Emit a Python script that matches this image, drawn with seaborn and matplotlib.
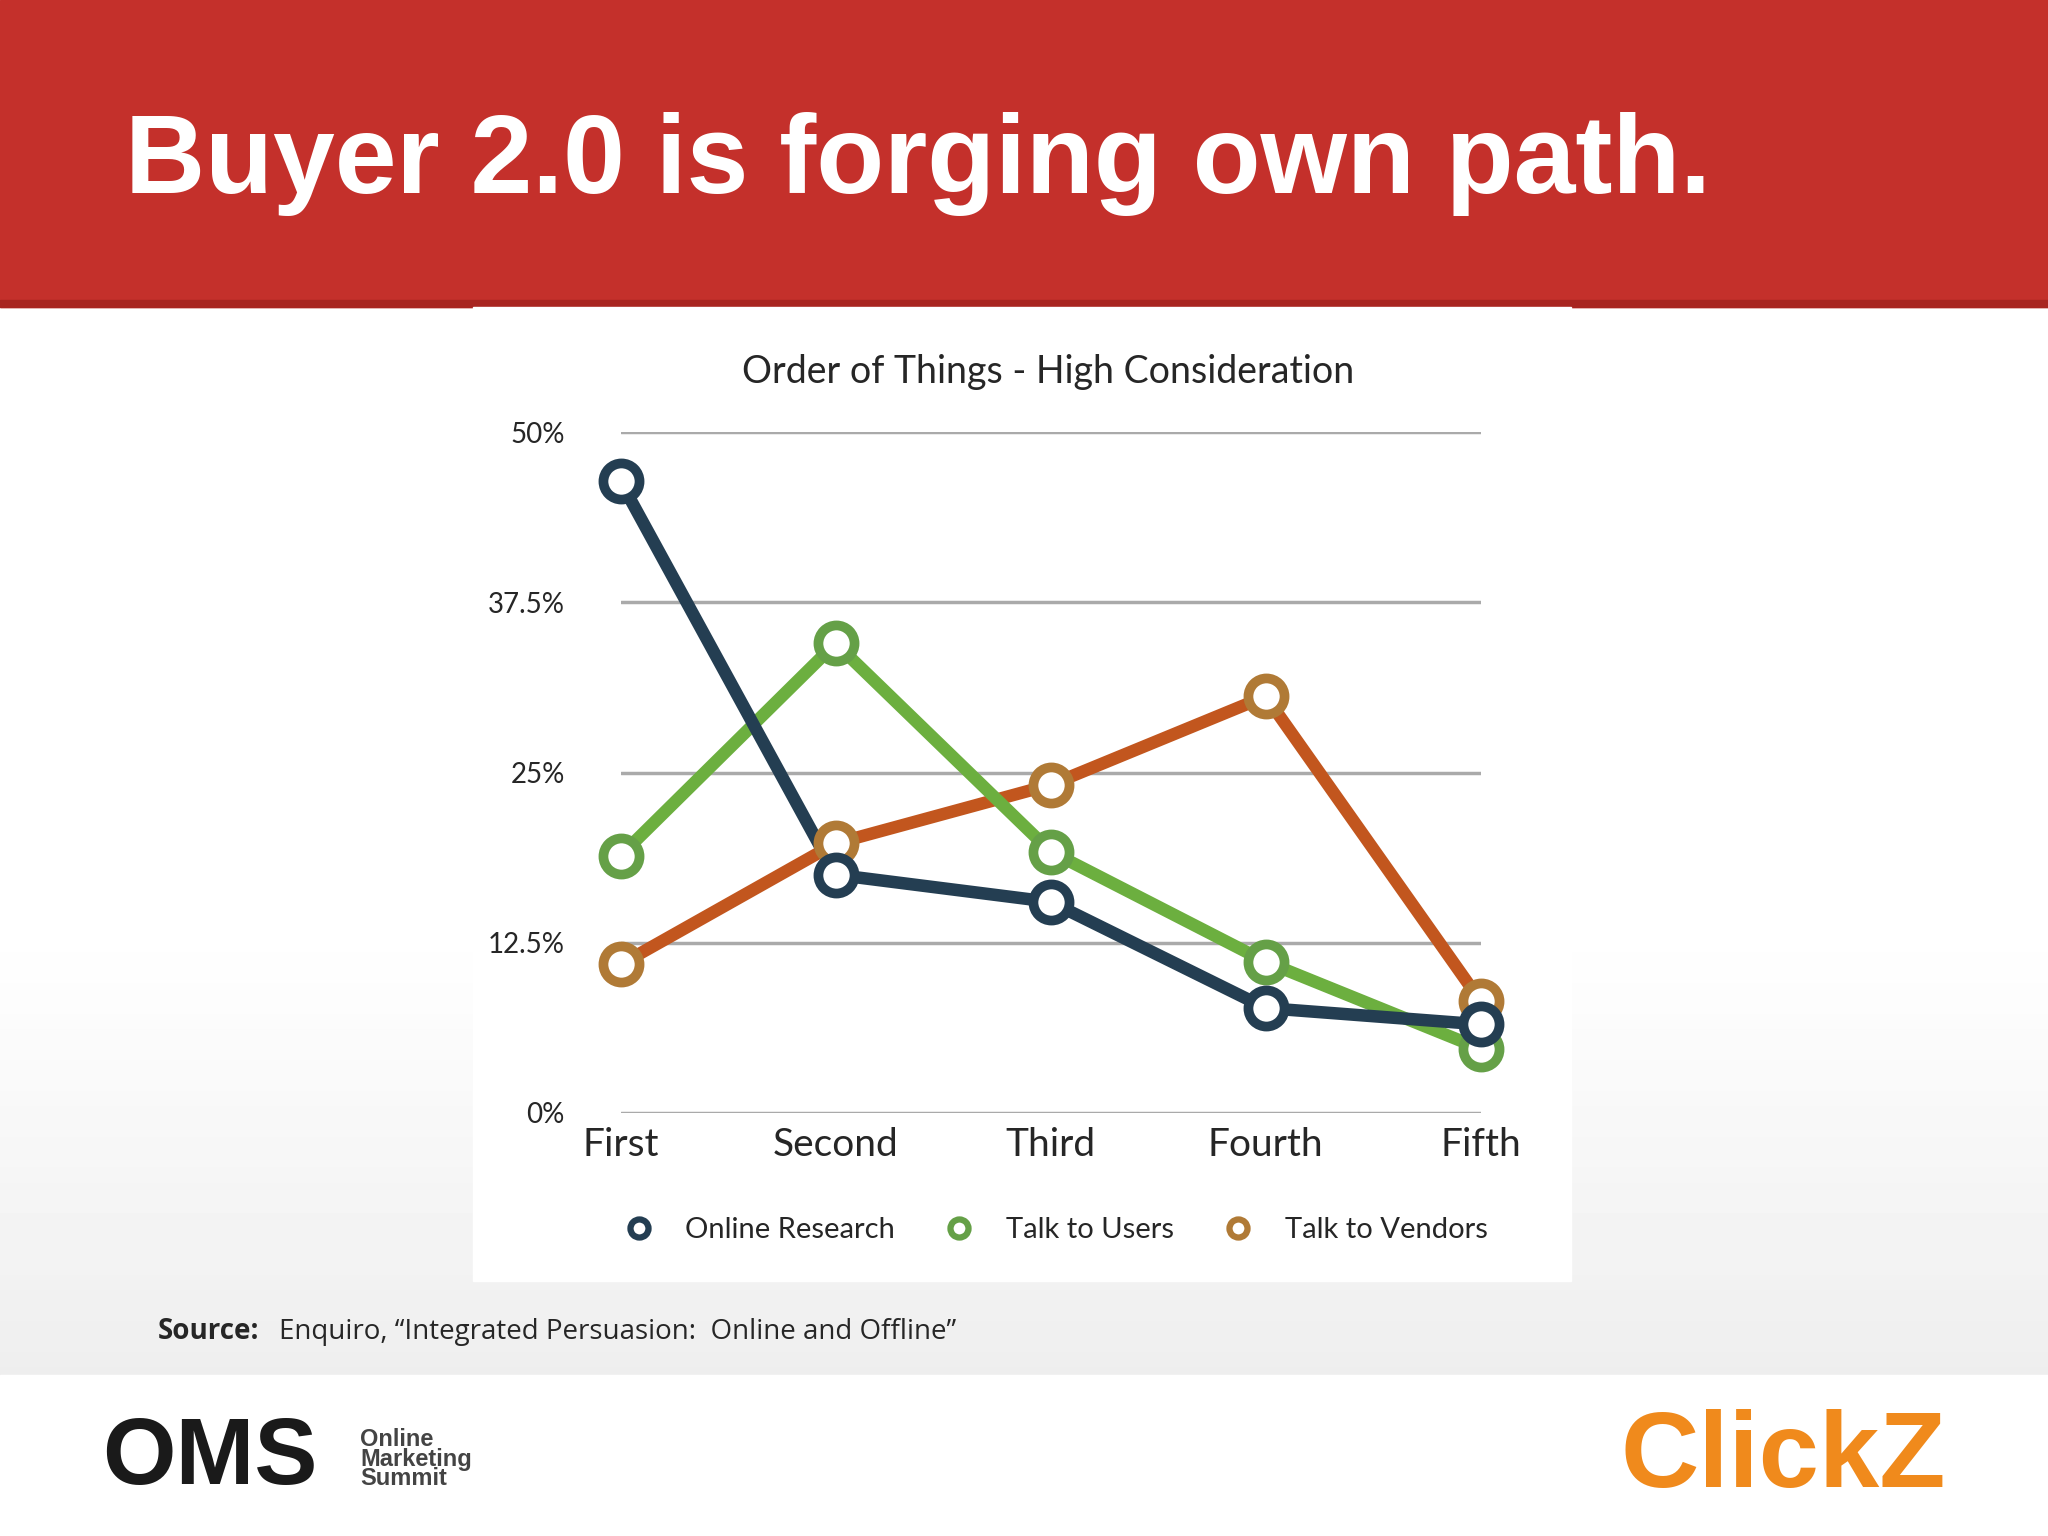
"""Order of Things - High Consideration slide."""
import matplotlib
matplotlib.use("Agg")
import matplotlib.pyplot as plt
import numpy as np
import pandas as pd
import seaborn as sns

STAGES = ["First", "Second", "Third", "Fourth", "Fifth"]
ONLINE_RESEARCH = [46.4, 17.5, 15.5, 7.7, 6.5]
TALK_TO_USERS = [18.9, 34.5, 19.2, 11.1, 4.7]
TALK_TO_VENDORS = [10.9, 19.8, 24.1, 30.6, 8.2]
Y_TICKS = [0, 12.5, 25, 37.5, 50]
Y_LABELS = ["0%", "12.5%", "25%", "37.5%", "50%"]

SERIES = {
    "Online Research": (ONLINE_RESEARCH, "#243e52", "#243e52"),
    "Talk to Users": (TALK_TO_USERS, "#6caf3f", "#65a047"),
    "Talk to Vendors": (TALK_TO_VENDORS, "#c2561e", "#b07a36"),
}

sns.set_style("white")
plt.rcParams["font.family"] = ["Lato", "DejaVu Sans"]

fig = plt.figure(figsize=(20.48, 15.36), dpi=100)

# background: grey gradient behind everything
bg = fig.add_axes([0, 0, 1, 1], zorder=-10)
grad = np.concatenate([np.ones(60), np.linspace(1, 0.91, 40)])[:, None]
bg.imshow(grad, cmap="gray", vmin=0, vmax=1, aspect="auto", extent=[0, 1, 0, 1])
bg.axhspan(0, 0.105, color="white")
bg.axhspan(0.8, 1.0, color="#c4302b")
bg.axhspan(0.8, 0.805, color="#a82520")
bg.set_xlim(0, 1); bg.set_ylim(0, 1); bg.axis("off")
# white chart panel
bg.add_patch(plt.Rectangle((0.231, 0.166), 0.536, 0.634, color="white"))

fig.text(0.061, 0.893, "Buyer 2.0 is forging own path.", color="white",
         fontsize=80, fontweight="bold", family="Liberation Sans", va="center")
fig.text(0.512, 0.758, "Order of Things - High Consideration", fontsize=27,
         ha="center", va="center")
fig.text(0.077, 0.133, "Source:", fontsize=20, fontweight="bold", va="center",
         family="Open Sans")
fig.text(0.136, 0.133, "Enquiro, \u201cIntegrated Persuasion:  Online and Offline\u201d",
         fontsize=20, va="center", family="Open Sans")
fig.text(0.05, 0.05, "OMS", fontsize=68, fontweight="black", va="center",
         family="Liberation Sans", color="#1a1a1a")
fig.text(0.176, 0.05, "Online\nMarketing\nSummit", fontsize=17, va="center",
         fontweight="bold", color="#444444", linespacing=0.8,
         family="Liberation Sans")
fig.text(0.95, 0.05, "ClickZ", fontsize=78, fontweight="bold", va="center",
         ha="right", color="#f08a1c", family="Liberation Sans")

ax = fig.add_axes([0.303, 0.2755, 0.42, 0.443])
df = pd.DataFrame({"stage": STAGES * 3,
                   "x": list(range(5)) * 3,
                   "value": ONLINE_RESEARCH + TALK_TO_USERS + TALK_TO_VENDORS,
                   "series": [n for n in SERIES for _ in STAGES]})
order = ["Talk to Vendors", "Talk to Users", "Online Research"]
for name in order:
    vals, line_c, mark_c = SERIES[name]
    sub = df[df["series"] == name]
    sns.lineplot(data=sub, x="x", y="value", ax=ax, color=line_c, linewidth=9,
                 legend=False, zorder=3)
    ax.plot(sub["x"], sub["value"], "o", ms=26, mfc="white", mec=mark_c,
            mew=7, zorder=4)

ax.set_xlim(0, 4)
ax.set_ylim(0, 50)
ax.set_yticks(Y_TICKS)
ax.set_yticklabels(Y_LABELS, fontsize=20)
ax.set_xticks(range(5))
ax.set_xticklabels(STAGES, fontsize=28)
ax.tick_params(axis="y", pad=40, length=0)
ax.tick_params(axis="x", pad=10, length=0)
ax.grid(axis="y", color="#aaaaaa", linewidth=2.5)
ax.set_axisbelow(True)
ax.set_xlabel(""); ax.set_ylabel("")
for s in ax.spines.values():
    s.set_visible(False)
ax.patch.set_alpha(0)
for ln in ax.lines:
    ln.set_clip_on(False)

handles = [plt.Line2D([], [], marker="o", ls="none", ms=13, mfc="white",
                      mec=SERIES[n][2], mew=4.5, label=n) for n in SERIES]
fig.legend(handles=handles, loc="center", bbox_to_anchor=(0.512, 0.199), ncol=3,
           frameon=False, fontsize=21, handletextpad=0.6, columnspacing=1.2)

fig.savefig("out.png")
